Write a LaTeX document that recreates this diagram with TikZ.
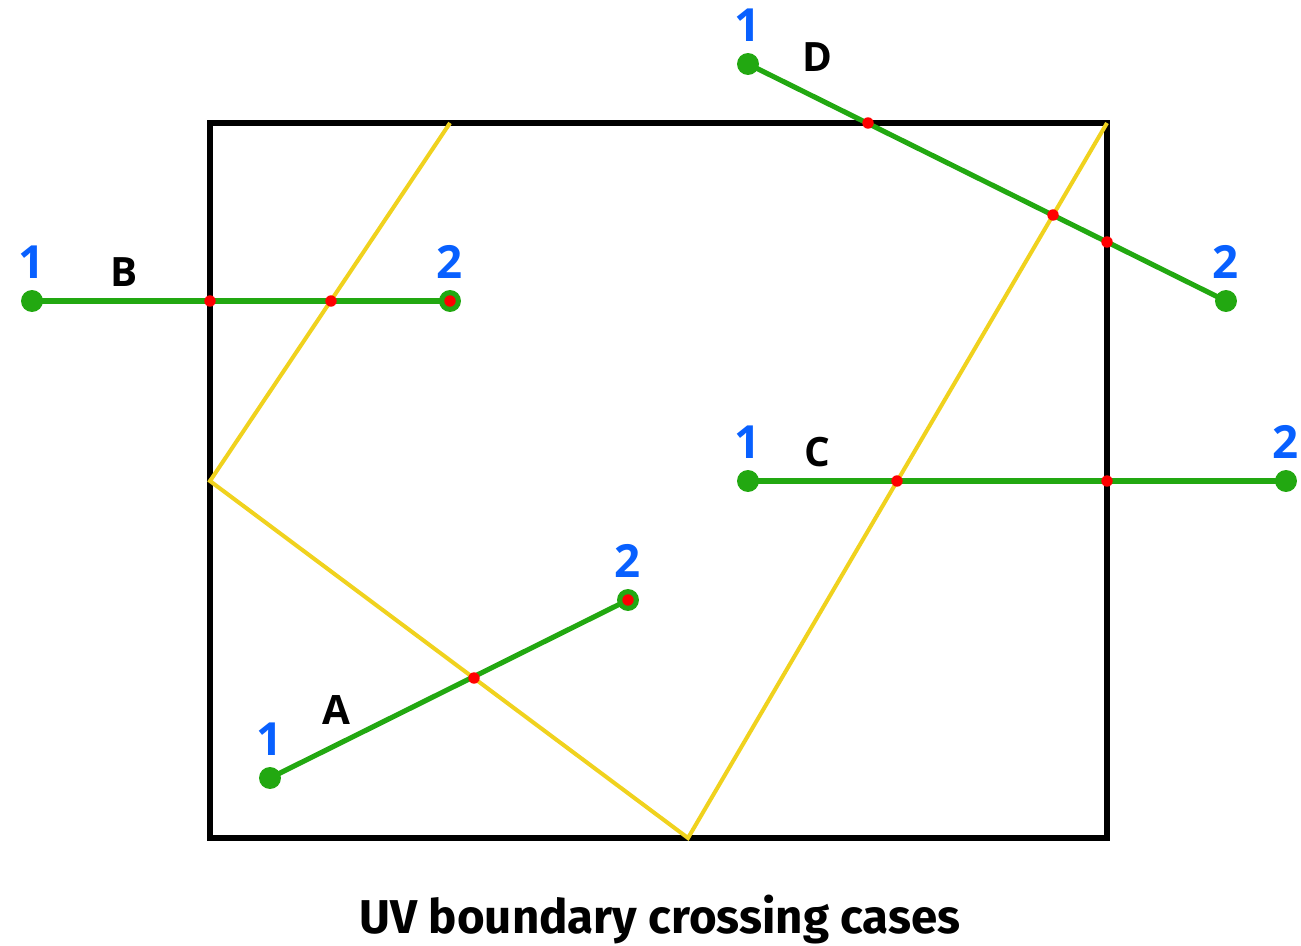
\documentclass[tikz,border=0pt]{standalone}
\usepackage{fontspec}
\setmainfont{Open Sans}
\newfontfamily\titlefont{Fira Sans}
\usetikzlibrary{positioning}
\definecolor{seggreen}{RGB}{34,168,17}
\definecolor{numblue}{RGB}{8,96,255}
\definecolor{cutyellow}{RGB}{240,210,30}
\tikzset{
  endpt/.style={circle,fill=seggreen,inner sep=0pt,minimum size=12.5pt},
  hitpt/.style={circle,fill=red,inner sep=0pt,minimum size=6.5pt},
  seg/.style={seggreen,line width=2.9pt},
  num/.style={text=numblue,font=\bfseries\fontsize{26}{26}\selectfont},
  tag/.style={font=\bfseries\fontsize{23}{23}\selectfont}
}
\begin{document}
\begin{tikzpicture}[x=0.02cm,y=-0.02cm]
\useasboundingbox (0,0) rectangle (1301,946);
% uv square and the seam
\draw[line width=3.3pt] (210,123) rectangle (1107,838);
\draw[cutyellow,line width=2.3pt] (450,123) -- (210,481) -- (688,838) -- (1107,123);
% segment end points
\node[endpt] (a1) at (270,778) {};
\node[endpt] (a2) at (628,600) {};
\node[endpt] (b1) at (32,301) {};
\node[endpt] (b2) at (450,301) {};
\node[endpt] (c1) at (748,481) {};
\node[endpt] (c2) at (1286,481) {};
\node[endpt] (d1) at (748,64) {};
\node[endpt] (d2) at (1226,301) {};
\foreach \s in {a,b,c,d}
    \draw[seg] (\s1.center) -- (\s2.center);
% crossings
\foreach \px/\py/\n in {474/678/ha1,628/600/ha2,210/301/hb1,331/301/hb2,450/301/hb3,
                   897/481/hc1,1107/481/hc2,868/123/hd1,1053/215/hd2,1107/242/hd3}
    \node[hitpt] (\n) at (\px,\py) {};
% labels
\foreach \s in {a,b,c,d} {
    \node[num,above=3pt of \s1] (n\s1) {1};
    \node[num,above=3pt of \s2] (n\s2) {2};
}
\node[tag] (la) at (336,710) {A};
\node[tag] (lb) at (124,272) {B};
\node[tag] (lc) at (817,452) {C};
\node[tag] (ld) at (817,57) {D};
\node[font=\titlefont\bfseries\fontsize{27}{27}\selectfont] (title) at (660,920) {UV boundary crossing cases};
\end{tikzpicture}
\end{document}
